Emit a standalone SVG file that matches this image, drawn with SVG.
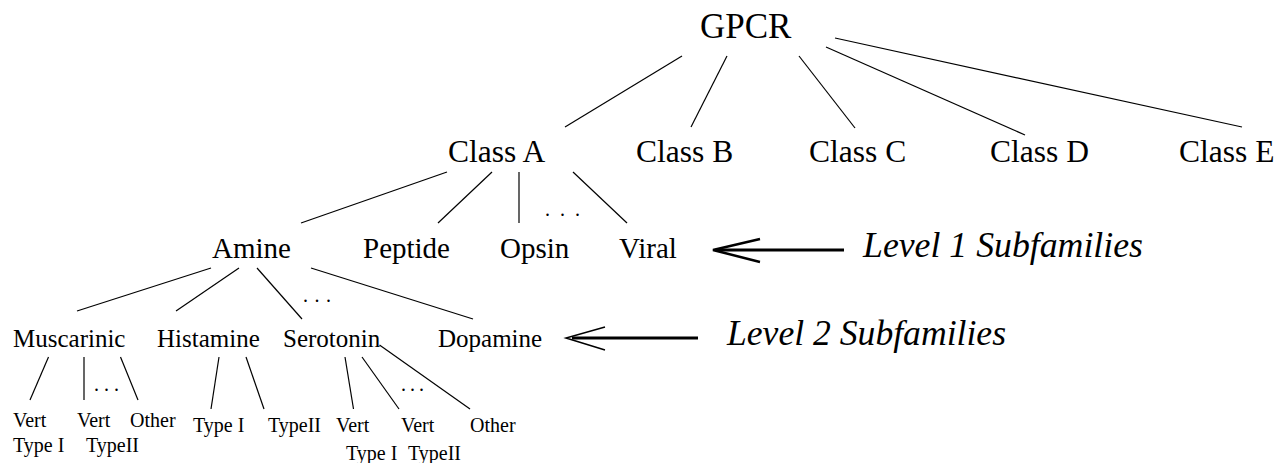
<svg xmlns="http://www.w3.org/2000/svg" width="1279" height="463" viewBox="0 0 1279 463">
<style>
text{font-family:"Liberation Serif","Times New Roman",serif;fill:#000}
.t0{font-size:35px}
.tc{font-size:31.5px}
.t1{font-size:29px}
.t2{font-size:25px}
.t3{font-size:20px}
.lv{font-size:35px;font-style:italic}
.dots{font-size:20px}
#connectors line{stroke:#000;stroke-width:1.2}
.shaft{stroke:#000;stroke-width:3}
.head{stroke:#000;fill:none;stroke-linejoin:miter}
</style>
<rect width="1279" height="463" fill="#fff"/>
<g id="connectors">
<line x1="682" y1="56" x2="565" y2="127"/>
<line x1="727" y1="56" x2="691" y2="127"/>
<line x1="799" y1="56" x2="855" y2="128"/>
<line x1="826" y1="47" x2="1025" y2="135"/>
<line x1="835" y1="38" x2="1242" y2="127"/>
<line x1="447" y1="172" x2="301" y2="223"/>
<line x1="492" y1="172" x2="438" y2="223"/>
<line x1="519" y1="172" x2="519" y2="223"/>
<line x1="573" y1="172" x2="627" y2="223"/>
<line x1="211" y1="268" x2="77" y2="311"/>
<line x1="239" y1="268" x2="176" y2="311"/>
<line x1="257" y1="268" x2="302" y2="319"/>
<line x1="311" y1="268" x2="473" y2="319"/>
<line x1="48.5" y1="357" x2="30" y2="400"/>
<line x1="84" y1="357" x2="84" y2="400"/>
<line x1="120.5" y1="357" x2="138" y2="400"/>
<line x1="219" y1="357" x2="211" y2="409"/>
<line x1="246" y1="357" x2="264" y2="409"/>
<line x1="345" y1="357" x2="353.5" y2="409"/>
<line x1="362" y1="357" x2="399" y2="409"/>
<line x1="379.5" y1="345" x2="470" y2="409"/>
</g>
<g id="dots">
<text class="dots" x="545" y="216" textLength="35" lengthAdjust="spacing">. . .</text>
<text class="dots" x="303" y="302" textLength="28" lengthAdjust="spacing">. . .</text>
<text class="dots" x="94" y="391" textLength="25" lengthAdjust="spacing">. . .</text>
<text class="dots" x="401" y="391" textLength="23" lengthAdjust="spacing">. . .</text>
</g>
<g id="n-gpcr"><text class="t0" x="700" y="38">GPCR</text></g>
<g id="n-classA"><text class="tc" x="448" y="162">Class A</text></g>
<g id="n-classB"><text class="tc" x="636" y="162">Class B</text></g>
<g id="n-classC"><text class="tc" x="809" y="162">Class C</text></g>
<g id="n-classD"><text class="tc" x="990" y="162">Class D</text></g>
<g id="n-classE"><text class="tc" x="1179" y="162">Class E</text></g>
<g id="n-amine"><text class="t1" x="212" y="258">Amine</text></g>
<g id="n-peptide"><text class="t1" x="363" y="258">Peptide</text></g>
<g id="n-opsin"><text class="t1" x="500" y="258">Opsin</text></g>
<g id="n-viral"><text class="t1" x="619" y="258">Viral</text></g>
<g id="n-muscarinic"><text class="t2" x="13" y="347">Muscarinic</text></g>
<g id="n-histamine"><text class="t2" x="157" y="347">Histamine</text></g>
<g id="n-serotonin"><text class="t2" x="283" y="347">Serotonin</text></g>
<g id="n-dopamine"><text class="t2" x="438" y="347">Dopamine</text></g>
<g id="n-m-vt1"><text class="t3" x="13" y="427">Vert</text><text class="t3" x="13" y="452">Type I</text></g>
<g id="n-m-vt2"><text class="t3" x="77" y="427">Vert</text><text class="t3" x="86" y="452">TypeII</text></g>
<g id="n-m-other"><text class="t3" x="130" y="427">Other</text></g>
<g id="n-h-t1"><text class="t3" x="193" y="432">Type I</text></g>
<g id="n-h-t2"><text class="t3" x="268" y="432">TypeII</text></g>
<g id="n-s-vt1"><text class="t3" x="336" y="432">Vert</text><text class="t3" x="346" y="460">Type I</text></g>
<g id="n-s-vt2"><text class="t3" x="401" y="432">Vert</text><text class="t3" x="408" y="460">TypeII</text></g>
<g id="n-s-other"><text class="t3" x="470" y="432">Other</text></g>
<g id="label-level1">
<line class="shaft" x1="716" y1="250" x2="844" y2="250"/>
<polyline class="head" stroke-width="2.5" points="760,239 713,250 760,262"/>
<text class="lv" x="863" y="257" textLength="280" lengthAdjust="spacingAndGlyphs">Level 1 Subfamilies</text>
</g>
<g id="label-level2">
<line class="shaft" x1="572" y1="338" x2="698" y2="338"/>
<polyline class="head" stroke-width="1.5" points="605,327 566,338 605,350"/>
<text class="lv" x="727" y="345" textLength="279" lengthAdjust="spacingAndGlyphs">Level 2 Subfamilies</text>
</g>
</svg>
